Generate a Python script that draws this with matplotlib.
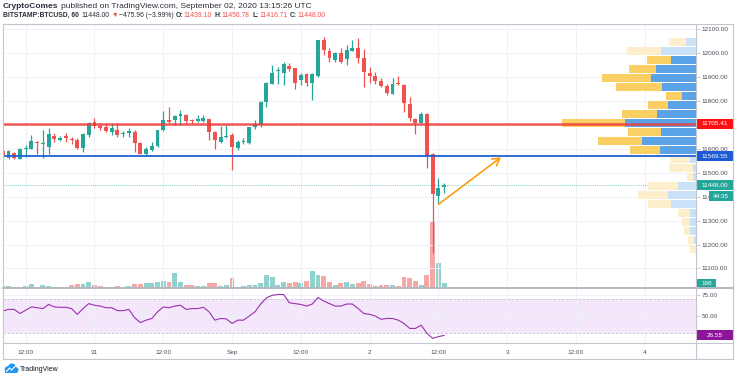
import numpy as np
import matplotlib.pyplot as plt
from matplotlib.patches import Rectangle, Circle
from matplotlib.lines import Line2D
from matplotlib.transforms import blended_transform_factory, IdentityTransform

plt.rcParams['font.family'] = ['Liberation Sans', 'DejaVu Sans']

# BTCUSD hourly candles, Aug 30 08:00 -> Sep 02 13:00 UTC
opens = [11591, 11563, 11585, 11557, 11599, 11598, 11628, 11620, 11609, 11655,
         11638, 11656, 11641, 11637, 11605, 11658, 11711, 11697, 11690, 11673,
         11679, 11661, 11665, 11673, 11623, 11578, 11595, 11612, 11679, 11723,
         11721, 11737, 11744, 11718, 11716, 11718, 11725, 11670, 11630, 11652,
         11658, 11605, 11629, 11623, 11693, 11700, 11798, 11874, 11925, 11919,
         11947, 11937, 11888, 11912, 11877, 11906, 12056, 12011, 11972, 12000,
         11975, 12011, 12024, 11982, 11919, 11905, 11885, 11863, 11832, 11878,
         11867, 11788, 11725, 11710, 11746, 11581, 11404, 11439.10]
highs = [11595, 11595, 11589, 11606, 11616, 11658, 11634, 11679, 11686, 11667,
         11653, 11665, 11651, 11644, 11667, 11714, 11728, 11707, 11707, 11707,
         11707, 11675, 11686, 11679, 11630, 11609, 11630, 11681, 11760, 11776,
         11741, 11762, 11748, 11727, 11741, 11741, 11727, 11674, 11695, 11700,
         11665, 11637, 11644, 11693, 11721, 11802, 11881, 11951, 11944, 11965,
         11958, 11940, 11919, 11919, 11919, 12058, 12067, 12021, 12007, 12021,
         12035, 12056, 12063, 12017, 11944, 11923, 11895, 11874, 11895, 11905,
         11874, 11818, 11728, 11756, 11749, 11584, 11477, 11456.78]
lows = [11567, 11560, 11560, 11556, 11567, 11598, 11581, 11563, 11581, 11630,
        11634, 11630, 11620, 11598, 11588, 11651, 11686, 11681, 11672, 11658,
        11651, 11651, 11651, 11588, 11577, 11574, 11591, 11609, 11676, 11707,
        11700, 11700, 11707, 11704, 11711, 11711, 11637, 11598, 11623, 11647,
        11511, 11595, 11620, 11619, 11682, 11693, 11777, 11871, 11874, 11867,
        11927, 11849, 11867, 11863, 11805, 11902, 11993, 11965, 11965, 11958,
        11951, 12008, 11958, 11860, 11877, 11874, 11858, 11825, 11830, 11867,
        11756, 11718, 11662, 11707, 11519, 11163, 11372, 11416.71]
closes = [11571, 11591, 11563, 11602, 11601, 11633, 11623, 11622, 11662, 11640,
          11646, 11644, 11639, 11606, 11661, 11707, 11696, 11689, 11676, 11687,
          11658, 11668, 11677, 11626, 11579, 11598, 11612, 11679, 11723, 11712,
          11737, 11746, 11718, 11716, 11725, 11728, 11672, 11637, 11651, 11654,
          11609, 11630, 11632, 11690, 11703, 11798, 11878, 11920, 11927, 11954,
          11933, 11877, 11909, 11877, 11913, 12056, 12014, 11979, 12000, 11965,
          12014, 12024, 11982, 11923, 11905, 11885, 11863, 11835, 11871, 11870,
          11791, 11728, 11707, 11745, 11570, 11411, 11435, 11448.00]
volumes = [75, 75, 65, 40, 85, 160, 65, 110, 100, 65,
           65, 40, 140, 160, 160, 250, 140, 85, 65, 65,
           100, 65, 100, 160, 160, 200, 200, 225, 275, 235,
           585, 250, 140, 110, 100, 100, 200, 200, 100, 110,
           385, 65, 75, 110, 110, 200, 500, 420, 140, 250,
           200, 225, 200, 290, 635, 510, 460, 225, 125, 200,
           250, 160, 200, 290, 160, 75, 110, 110, 110, 75,
           420, 400, 260, 140, 510, 2470, 935, 198]
rsi = [56, 58, 58, 53, 57, 61, 60, 59, 64, 61,
       60.5, 60.5, 59, 52, 59, 65, 63, 62, 60, 60,
       56.5, 56.5, 58, 48, 42, 45, 47, 55, 61, 60,
       62, 63, 58, 59, 59, 60.5, 55, 45, 47, 46.5,
       41, 45, 45, 50, 55, 64.5, 72, 75, 76, 76,
       66, 65, 64, 62, 64.5, 72.5, 68, 65, 62, 62,
       64.5, 64.5, 59, 53, 52, 50, 46, 47, 47, 45,
       41, 35, 35, 39, 29, 23, 25, 26.55]

# visible range volume profile, rows from the top (high) down to the low
vp_up = [30, 104, 75, 119, 134, 101, 41, 82, 117, 212, 104, 161,
         107, 17, 9, 9, 52, 84, 75, 17, 17, 17, 5, 0]
vp_down = [50, 103, 71, 80, 147, 138, 49, 62, 105, 189, 100, 131,
           90, 60, 71, 18, 92, 88, 69, 35, 23, 18, 17, 17]

resistance = 11705.41
support = 11569.55
arrow_start = (76.0, 11368)
arrow_end = (86.9, 11565)

tick_pos = [4, 16, 28, 40, 52, 64, 76, 88, 100, 112]
tick_labels = ['12:00', '31', '12:00', 'Sep', '12:00', '2', '12:00', '3', '12:00', '4']
price_ticks = np.arange(11100, 12101, 100)

W, H = 736, 380
GREEN = '#26a69a'
RED = '#ef5350'
GRID = '#eef1f7'
TEXT = '#4a4e59'
FRAME = '#c3c6ce'
FS = 4.6


def fx(px):
    return px / W


def fy(py):
    return 1 - py / H


fig = plt.figure(figsize=(W / 100, H / 100), dpi=100)

L, R = 3.3, 695.7
TOP, MID, BOT = 24, 288.3, 343.3

ax = fig.add_axes([fx(L), fy(MID), fx(R) - fx(L), fy(TOP) - fy(MID)])
ax_vol = ax.twinx()
ax.set_zorder(ax_vol.get_zorder() + 1)
ax.patch.set_visible(False)
ax_rsi = fig.add_axes([fx(L), fy(BOT), fx(R) - fx(L), fy(MID) - fy(BOT)])

x = np.arange(len(closes))
o = np.array(opens)
c = np.array(closes)
hi = np.array(highs)
lo = np.array(lows)
col = np.where(c >= o, GREEN, RED)

# volume overlay
ax_vol.bar(x, volumes, width=0.85, color=col, alpha=0.5, linewidth=0)
ax_vol.set_ylim(0, max(volumes) * 4.0)
ax_vol.set_yticks([])

# candles
ax.vlines(x, lo, hi, colors=col, lw=0.9, zorder=3)
ax.bar(x, np.maximum(np.abs(c - o), 3.5), bottom=np.minimum(o, c), width=0.68,
       color=col, linewidth=0, zorder=3)

ax.set_xlim(0.09, 120.9)
ax.set_ylim(11017, 12123)

# volume profile (visible range)
rows = len(vp_up)
edges = np.linspace(hi.max(), lo.min(), rows + 1)
row_h = edges[0] - edges[1]
tot = np.array(vp_up) + np.array(vp_down)
scale = 0.193 / tot.max()
bt = blended_transform_factory(ax.transAxes, ax.transData)
for k in range(rows):
    in_va = 2 <= k <= 12
    cu = '#5aa3e8' if in_va else '#c9e2f7'
    cd = '#fad065' if in_va else '#fdefcc'
    wu = vp_up[k] * scale
    wd = vp_down[k] * scale
    y0 = edges[k + 1] + row_h * 0.06
    hh = row_h * 0.88
    ax.add_patch(Rectangle((1 - wu, y0), wu, hh, transform=bt, facecolor=cu,
                           edgecolor='none', zorder=2))
    ax.add_patch(Rectangle((1 - wu - wd, y0), wd, hh, transform=bt, facecolor=cd,
                           edgecolor='none', zorder=2))

# levels
ax.axhline(resistance, color='#f03a3a', lw=1.8, alpha=0.85, zorder=4)
ax.axhline(support, color='#1e62d4', lw=1.3, zorder=4)
ax.axhline(closes[-1], color=GREEN, lw=0.6, ls=(0, (1, 1.5)), alpha=0.7, zorder=1.6)

ax.annotate('', xy=arrow_end, xytext=arrow_start,
            arrowprops=dict(arrowstyle='->,head_length=0.5,head_width=0.3',
                            color='#ff9800', lw=1.1, shrinkA=0, shrinkB=0),
            zorder=5)

ax.set_yticks(price_ticks)
# the 11700 label sits under the resistance price box
ax.set_yticklabels(['' if p == 11700 else f'{p:.2f}' for p in price_ticks])
ax.yaxis.tick_right()
ax.tick_params(axis='y', length=3, width=0.6, color=FRAME, labelsize=FS,
               labelcolor=TEXT, pad=1.5)
ax.set_xticks(tick_pos)
ax.tick_params(axis='x', length=0, labelbottom=False)
ax.grid(True, color=GRID, lw=0.7)

# RSI pane
ax_rsi.axhspan(30, 70, color='#f4e7fb', lw=0, zorder=0)
ax_rsi.axhline(70, color='#c9c3d3', lw=0.6, ls=(0, (3, 2)))
ax_rsi.axhline(30, color='#c9c3d3', lw=0.6, ls=(0, (3, 2)))
ax_rsi.plot(x, rsi, color='#9b2fae', lw=0.8, zorder=3)
ax_rsi.set_xlim(ax.get_xlim())
ax_rsi.set_ylim(17, 83.5)
ax_rsi.set_yticks([50, 75])
ax_rsi.set_yticklabels(['50.00', '75.00'])
ax_rsi.yaxis.tick_right()
ax_rsi.tick_params(axis='y', length=3, width=0.6, color=FRAME, labelsize=FS,
                   labelcolor=TEXT, pad=1.5)
ax_rsi.set_xticks(tick_pos)
ax_rsi.set_xticklabels(tick_labels)
ax_rsi.tick_params(axis='x', length=0, labelsize=FS, labelcolor=TEXT, pad=5)
ax_rsi.grid(True, color=GRID, lw=0.7)

for a in (ax, ax_vol, ax_rsi):
    for s in a.spines.values():
        s.set_visible(False)


def axis_box(axis, yval, text, color, x0=1.0019, x1=1.0539, h_px=10.0):
    trans = blended_transform_factory(axis.transAxes, axis.transData)
    ya, yb = axis.get_ylim()
    ppx = (yb - ya) / (axis.get_position().height * H)
    hh = h_px * ppx
    axis.add_patch(Rectangle((x0, yval - hh / 2), x1 - x0, hh, transform=trans,
                             facecolor=color, edgecolor='none', clip_on=False, zorder=6))
    axis.text((x0 + x1) / 2, yval, text, transform=trans, color='white', fontsize=FS,
              ha='center', va='center', clip_on=False, zorder=7)
    return ppx


axis_box(ax, resistance, f'{resistance:.2f}', '#ff1111')
axis_box(ax, support, f'{support:.2f}', '#1e5ad6')
ppx = axis_box(ax, closes[-1], f'{closes[-1]:.2f}', GREEN)
axis_box(ax, closes[-1] - 11 * ppx, '44:35', GREEN, x0=1.0192)
axis_box(ax_vol, volumes[-1], f'{volumes[-1]}', GREEN, x1=1.0293, h_px=8)
axis_box(ax_rsi, rsi[-1], f'{rsi[-1]:.2f}', '#8e1599')

# frame lines
def hline(y, x0, x1, lw=0.8, color=FRAME):
    fig.add_artist(Line2D([fx(x0), fx(x1)], [fy(y), fy(y)], lw=lw, color=color))


def vline(xp, y0, y1, lw=0.8, color=FRAME):
    fig.add_artist(Line2D([fx(xp), fx(xp)], [fy(y0), fy(y1)], lw=lw, color=color))


hline(TOP, L, 733)
hline(359, L, 733)
hline(BOT, L, 733)
hline(MID, L, 733, lw=1.4, color='#b4b7bf')
vline(L, TOP, 359)
vline(733, TOP, 359)
vline(R, TOP, 359)

# header
renderer = fig.canvas.get_renderer()


def write_line(x_px, y_px, pieces, fs):
    xpos = x_px
    for txt, color, weight, gap in pieces:
        t = fig.text(fx(xpos), fy(y_px), txt, color=color, fontsize=fs,
                     fontweight=weight, va='center', ha='left')
        xpos += t.get_window_extent(renderer).width + gap


DARK = '#2a2e39'
write_line(3, 6.5, [('CryptoComes', DARK, 'bold', 2.2),
                    ('published on TradingView.com, September 02, 2020 13:15:26 UTC',
                     DARK, 'normal', 0)], 6.0)
write_line(3, 15.5, [('BITSTAMP:BTCUSD, 60', DARK, 'bold', 2.5),
                     ('11448.00', DARK, 'normal', 1.8),
                     ('▼', RED, 'normal', 1.5),
                     ('−475.96 (−3.99%)', DARK, 'normal', 2),
                     ('O:', DARK, 'bold', 0.3), ('11439.10', RED, 'normal', 2.5),
                     ('H:', DARK, 'bold', 0.3), ('11456.78', RED, 'normal', 2.5),
                     ('L:', DARK, 'bold', 0.3), ('11416.71', RED, 'normal', 2.5),
                     ('C:', DARK, 'bold', 0.3), ('11448.00', RED, 'normal', 0)], 4.85)

# TradingView logo
idt = IdentityTransform()
for cx, cy, r in [(8, 369.5, 3.3), (12, 367.5, 4.0), (15.5, 370, 3.0)]:
    fig.add_artist(Circle((cx, H - cy), r, transform=idt, facecolor='#2196f3',
                          edgecolor='none'))
fig.add_artist(Rectangle((5, H - 373), 12, 3.5, transform=idt, facecolor='#2196f3',
                         edgecolor='none'))
fig.add_artist(Line2D([6.5, 9.5, 11.5, 15.5], [H - 371.5, H - 368, H - 370, H - 366],
                      transform=idt, color='white', lw=0.8))
fig.text(fx(19.5), fy(369.5), 'TradingView', fontsize=5.0, color='#131722',
         va='center', ha='left')

fig.savefig('out.png', dpi=100, facecolor='white')
